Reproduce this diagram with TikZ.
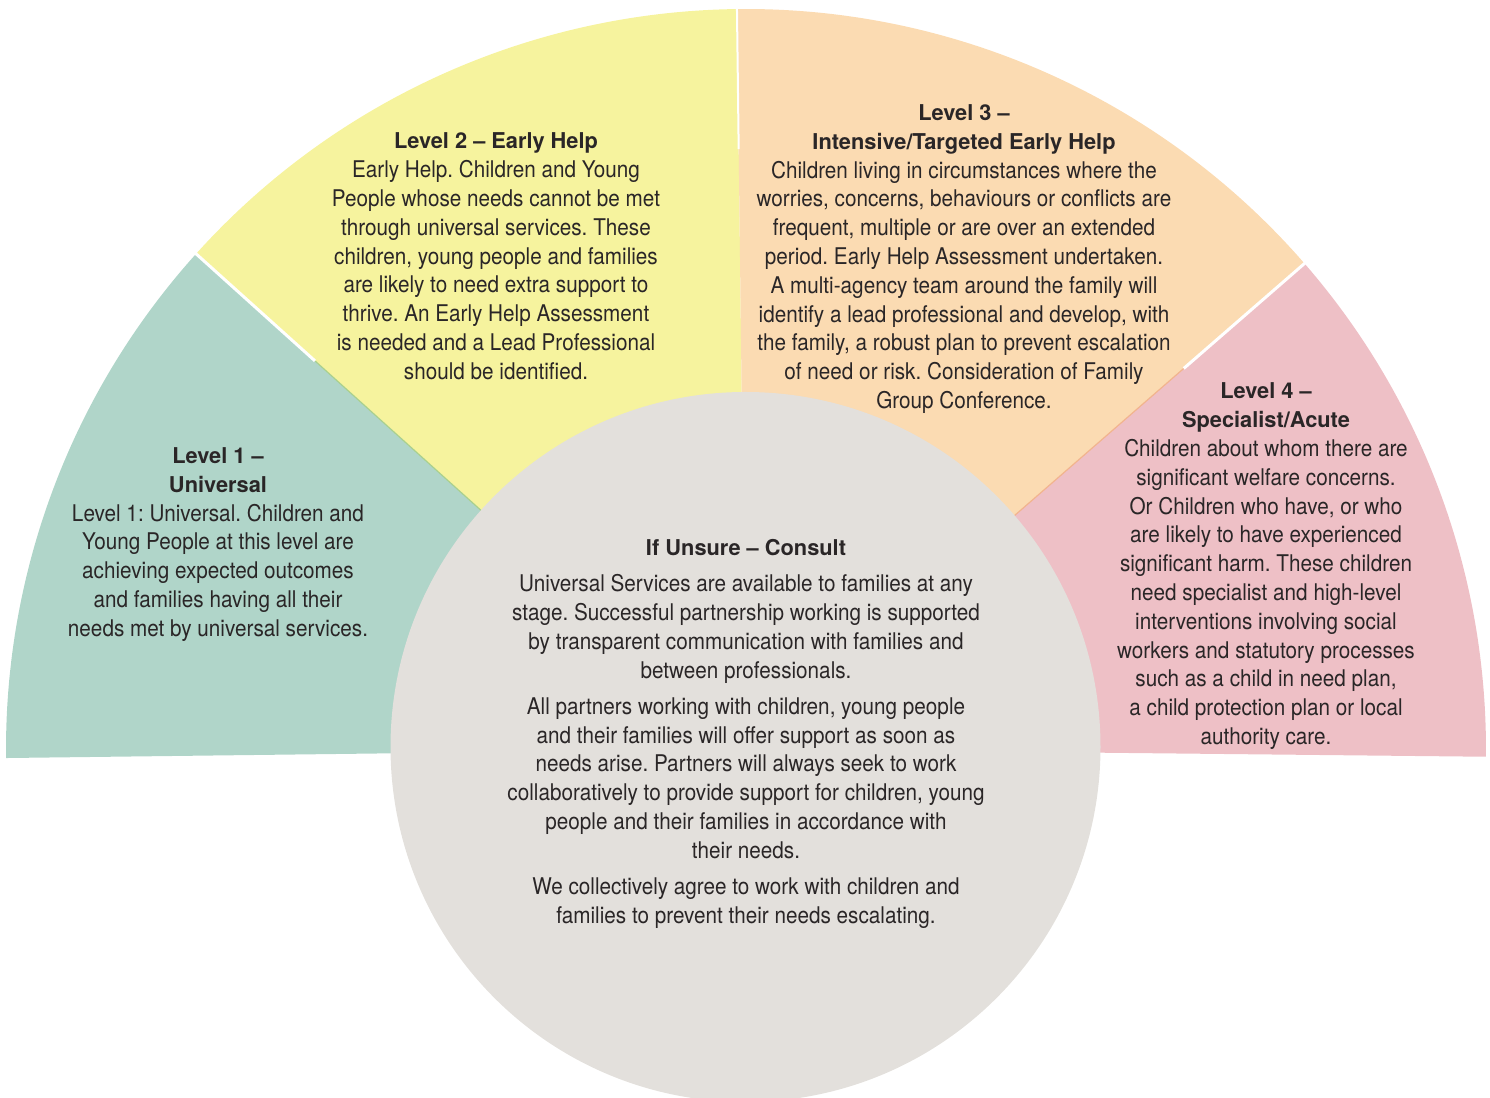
\documentclass[tikz,border=0pt]{standalone}
\usepackage{fontspec}
\usetikzlibrary{calc}
\setmainfont{TeX Gyre Heros}
\newfontfamily\bodyfont{TeX Gyre Heros}[FakeStretch=0.9]
\definecolor{lvone}{HTML}{B0D5C9}
\definecolor{lvtwo}{HTML}{F6F39E}
\definecolor{lvthree}{HTML}{FBDBB2}
\definecolor{lvfour}{HTML}{EEC0C6}
\definecolor{consult}{HTML}{E3E0DC}
\definecolor{ink}{HTML}{2A2627}
\definecolor{seamgreen}{HTML}{A9D08E}
\definecolor{seamorange}{HTML}{F2B48E}
\newcommand\hdl[1]{{\rmfamily\bfseries\fontsize{10.9}{14.4}\selectfont #1}}
\frenchspacing
\begin{document}
\begin{tikzpicture}[x=0.5pt,y=0.5pt,
  txt/.style={anchor=north,inner sep=0pt,align=center,text=ink,
    font=\bodyfont\frenchspacing\fontsize{11.5}{14.4}\selectfont},
  gap/.style={white,line width=1.5pt},
  seam/.style={line width=0.6pt}]
\useasboundingbox (0,0) rectangle (1490,1098);
\clip (0,0) rectangle (1490,1098);
\coordinate (C) at (746,349);
% sectors
\fill[lvone]   (C) -- ++(180.7:740) arc[start angle=180.7,end angle=138,radius=740] -- cycle;
\fill[lvtwo]   (C) -- ++(138:740) arc[start angle=138,end angle=90.7,radius=740] -- cycle;
\fill[lvthree] (C) -- ++(90.7:740) arc[start angle=90.7,end angle=41,radius=740] -- cycle;
\fill[lvfour]  (C) -- ++(41:740) arc[start angle=41,end angle=-0.6,radius=740] -- cycle;
% seams
\draw[seam,color=seamgreen] ($(C)+(138:580)$) -- ($(C)+(138:340)$);
\draw[seam,color=seamorange] ($(C)+(41:580)$) -- ($(C)+(41:340)$);
\draw[gap] ($(C)+(138:742)$) -- ($(C)+(138:580)$);
\draw[gap,line width=1pt] ($(C)+(90.7:742)$) -- ($(C)+(90.7:600)$);
\draw[gap] ($(C)+(41:742)$) -- ($(C)+(41:580)$);
% inner circle
\fill[consult] (745.5,351) circle[radius=355];
% texts
\node[txt] (l1) at (218,650.7) {\hdl{Level 1 --}\\ \hdl{Universal}\\
Level 1: Universal. Children and\\ Young People at this level are\\
achieving expected outcomes\\ and families having all their\\
needs met by universal services.};
\node[txt] (l2) at (496,965.4) {\hdl{Level 2 -- Early Help}\\
Early Help. Children and Young\\ People whose needs cannot be met\\
through universal services. These\\ children, young people and families\\
are likely to need extra support to\\ thrive. An Early Help Assessment\\
is needed and a Lead Professional\\ should be identified.};
\node[txt] (l3) at (964,993.7) {\hdl{Level 3 --}\\ \hdl{Intensive/Targeted Early Help}\\
Children living in circumstances where the\\
worries, concerns, behaviours or conflicts are\\
frequent, multiple or are over an extended\\
period. Early Help Assessment undertaken.\\
A multi-agency team around the family will\\
identify a lead professional and develop, with\\
the family, a robust plan to prevent escalation\\
of need or risk. Consideration of Family\\
Group Conference.};
\node[txt] (l4) at (1266,715.4) {\hdl{Level 4 --}\\ \hdl{Specialist/Acute}\\
Children about whom there are\\ significant welfare concerns.\\
Or Children who have, or who\\ are likely to have experienced\\
significant harm. These children\\ need specialist and high-level\\
interventions involving social\\ workers and statutory processes\\
such as a child in need plan,\\ a child protection plan or local\\
authority care.};
\node[txt] (cs) at (746,558.7) {\hdl{If Unsure -- Consult}\\[3.6pt]
Universal Services are available to families at any\\
stage. Successful partnership working is supported\\
by transparent communication with families and\\
between professionals.\\[3.6pt]
All partners working with children, young people\\
and their families will offer support as soon as\\
needs arise. Partners will always seek to work\\
collaboratively to provide support for children, young\\
people and their families in accordance with\\
their needs.\\[3.6pt]
We collectively agree to work with children and\\
families to prevent their needs escalating.};
\end{tikzpicture}
\end{document}
